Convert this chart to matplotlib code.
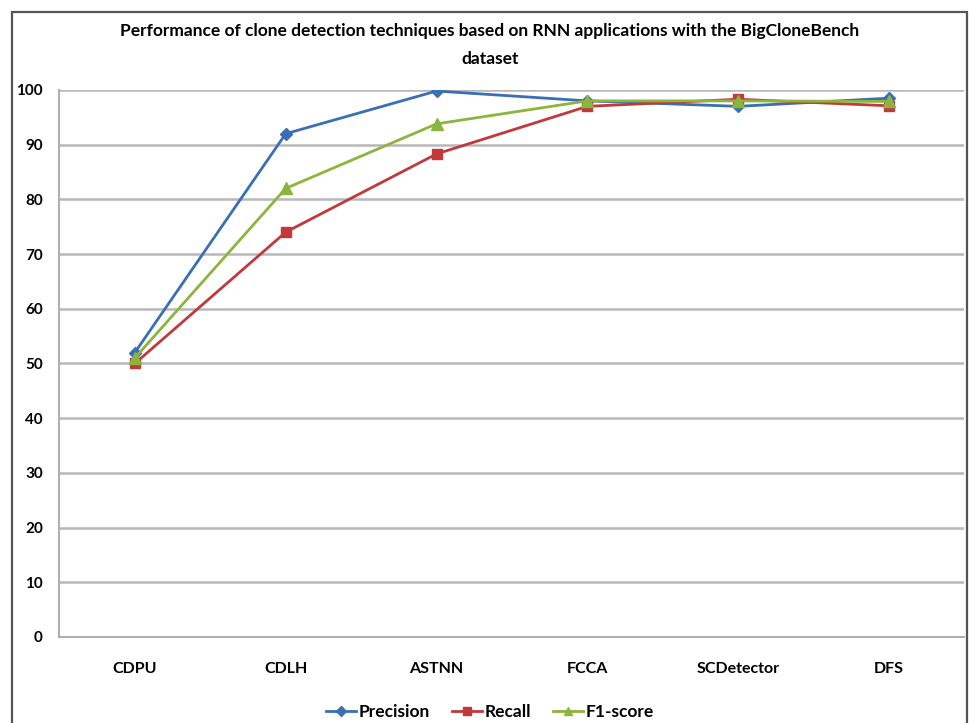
import matplotlib.pyplot as plt
from matplotlib.patches import Rectangle

techniques = ["CDPU", "CDLH", "ASTNN", "FCCA", "SCDetector", "DFS"]
precision = [52, 92, 99.8, 98, 97, 98.5]
recall = [50, 74, 88.3, 97, 98.3, 97.1]
f1_score = [51, 82, 93.8, 98, 98, 97.9]

plt.rcParams['font.family'] = ['Lato', 'DejaVu Sans']

fig = plt.figure(figsize=(9.7, 7.23), dpi=100)
ax = fig.add_axes([0.0613, 0.119, 0.933, 0.7566])

# outer chart frame
fig.patches.append(Rectangle((12 / 970, -0.05), 955 / 970, 1 - 12 / 723 + 0.05,
                             transform=fig.transFigure, fill=False,
                             edgecolor='#555555', lw=1.6))

x = range(len(techniques))
ax.plot(x, precision, color='#3a6fb5', lw=2, marker='D', ms=6, label='Precision')
ax.plot(x, recall, color='#c0393b', lw=2, marker='s', ms=7, label='Recall')
ax.plot(x, f1_score, color='#8db43c', lw=2, marker='^', ms=8, label='F1-score')

ax.set_xlim(-0.5, len(techniques) - 0.5)
ax.set_ylim(0, 100)
ax.set_yticks(range(0, 101, 10))
ax.set_xticks(list(x))
ax.set_xticklabels(techniques, fontsize=11.5, fontweight='bold')
ax.tick_params(axis='y', labelsize=11, length=0, pad=12)
ax.tick_params(axis='x', length=0, pad=18)
for lab in ax.get_yticklabels():
    lab.set_fontweight('bold')
ax.grid(axis='y', color='#b8b8b8', lw=1.8)
ax.set_axisbelow(True)
for side in ['top', 'right']:
    ax.spines[side].set_visible(False)
for side in ['left', 'bottom']:
    ax.spines[side].set_color('#b0b0b0')
    ax.spines[side].set_linewidth(1.5)

fig.text(0.505, 0.957, 'Performance of clone detection techniques based on RNN applications with the BigCloneBench',
         ha='center', va='center', fontsize=12.5, fontweight='bold')
fig.text(0.505, 0.919, 'dataset', ha='center', va='center', fontsize=12.5, fontweight='bold')

leg = fig.legend(loc='center', bbox_to_anchor=(0.505, 0.015), ncol=3, frameon=False,
                 handlelength=1.7, handletextpad=0.15, columnspacing=1.3,
                 markerscale=0.8, prop={'weight': 'bold', 'size': 12.5})

fig.savefig('out.png', dpi=100)
